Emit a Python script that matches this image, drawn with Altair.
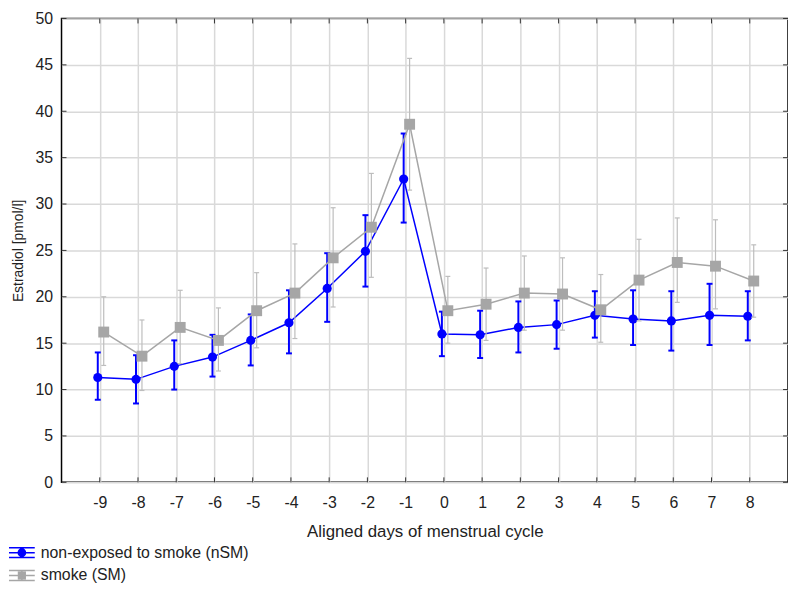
import altair as alt
import pandas as pd

days = list(range(-9, 9))
x_ticks = list(range(-9, 9))
y_ticks = list(range(0, 55, 5))
series_names = ["non-exposed to smoke (nSM)", "smoke (SM)"]

nsm_mean = [11.3, 11.1, 12.5, 13.5, 15.3, 17.2, 20.9, 24.9, 32.7, 16.0, 15.9, 16.7, 17.0, 18.0, 17.6, 17.4, 18.0, 17.9]
nsm_hi = [14.0, 13.7, 15.3, 15.9, 18.1, 20.7, 24.7, 28.8, 37.6, 18.4, 18.5, 19.5, 19.6, 20.6, 20.7, 20.6, 21.4, 20.6]
nsm_lo = [8.9, 8.5, 10.0, 11.4, 12.6, 13.9, 17.3, 21.1, 28.0, 13.6, 13.4, 14.0, 14.4, 15.6, 14.8, 14.2, 14.8, 15.3]

sm_mean = [16.2, 13.6, 16.7, 15.3, 18.5, 20.4, 24.2, 27.5, 38.6, 18.5, 19.2, 20.4, 20.3, 18.6, 21.8, 23.7, 23.3, 21.7]
sm_hi = [20.0, 17.5, 20.7, 18.8, 22.6, 25.7, 29.6, 33.3, 45.7, 22.2, 23.1, 24.4, 24.2, 22.4, 26.2, 28.5, 28.3, 25.6]
sm_lo = [12.6, 9.9, 12.8, 12.0, 14.5, 15.5, 18.9, 22.1, 31.5, 15.0, 15.3, 16.4, 16.4, 15.1, 17.4, 19.4, 18.7, 17.8]

rows = []
for i, d in enumerate(days):
    rows.append(dict(day=d, series=series_names[0], mean=nsm_mean[i], lo=nsm_lo[i], hi=nsm_hi[i]))
for i, d in enumerate(days):
    rows.append(dict(day=d, series=series_names[1], mean=sm_mean[i], lo=sm_lo[i], hi=sm_hi[i]))
df = pd.DataFrame(rows)
nsm = df[df.series == series_names[0]]
sm = df[df.series == series_names[1]]
xt = pd.DataFrame({"xv": x_ticks})
yt = pd.DataFrame({"yv": y_ticks})

W, H = 733, 468
FONT = "Liberation Sans"
BLUE = "#0000ff"
GRAY = "#a6a6a6"
GRAY_ERR = "#bdbdbd"
X_TITLE = "Aligned days of menstrual cycle"
Y_TITLE = "Estradiol [pmol/l]"

xs = alt.Scale(domain=[-10, 9], nice=False, zero=False)
ys = alt.Scale(domain=[0, 50], nice=False)

x_axis = alt.Axis(values=x_ticks, grid=True, tickSize=0, domain=False, labelPadding=12,
                  labelFontSize=16, titleFontSize=17, titlePadding=14,
                  labelExpr="datum.value + ''", title=X_TITLE)
y_axis = alt.Axis(values=y_ticks, grid=True, tickSize=0, domain=False, labelPadding=9,
                  labelFontSize=16, titleFontSize=14, titlePadding=10,
                  labelExpr="datum.value + ''", title=Y_TITLE)


def X(field):
    return alt.X(field, scale=xs, axis=x_axis, title=X_TITLE)


def Y(field):
    return alt.Y(field, scale=ys, axis=y_axis, title=Y_TITLE)


# inner tick marks
tick_color = "#333333"
xticks_bottom = alt.Chart(xt).mark_rule(color=tick_color, strokeWidth=1).encode(
    x=X("xv:Q"), y=alt.value(H), y2=alt.value(H - 5))
xticks_top = alt.Chart(xt).mark_rule(color=tick_color, strokeWidth=1).encode(
    x=X("xv:Q"), y=alt.value(0), y2=alt.value(5))
yticks_left = alt.Chart(yt).mark_rule(color=tick_color, strokeWidth=1).encode(
    y=Y("yv:Q"), x=alt.value(0), x2=alt.value(5))
yticks_right = alt.Chart(yt).mark_rule(color=tick_color, strokeWidth=1).encode(
    y=Y("yv:Q"), x=alt.value(W - 5), x2=alt.value(W))

# nSM layers
b_off = -2
nsm_line = alt.Chart(nsm).mark_line(color=BLUE, strokeWidth=1.5, xOffset=b_off).encode(
    x=X("day:Q"), y=Y("mean:Q"))
nsm_bar = alt.Chart(nsm).mark_rule(color=BLUE, strokeWidth=2, xOffset=b_off).encode(
    x=X("day:Q"), y=Y("lo:Q"), y2="hi:Q")
nsm_cap_lo = alt.Chart(nsm).mark_tick(color=BLUE, orient="horizontal", size=6, thickness=2, xOffset=b_off, opacity=1).encode(
    x=X("day:Q"), y=Y("lo:Q"))
nsm_cap_hi = alt.Chart(nsm).mark_tick(color=BLUE, orient="horizontal", size=6, thickness=2, xOffset=b_off, opacity=1).encode(
    x=X("day:Q"), y=Y("hi:Q"))
nsm_pts = alt.Chart(nsm).mark_circle(color=BLUE, size=85, opacity=1, xOffset=b_off).encode(
    x=X("day:Q"), y=Y("mean:Q"))

# SM layers
g_off = 4
sm_line = alt.Chart(sm).mark_line(color=GRAY, strokeWidth=1.5, xOffset=g_off).encode(
    x=X("day:Q"), y=Y("mean:Q"))
sm_bar = alt.Chart(sm).mark_rule(color=GRAY_ERR, strokeWidth=1.2, xOffset=g_off).encode(
    x=X("day:Q"), y=Y("lo:Q"), y2="hi:Q")
sm_cap_lo = alt.Chart(sm).mark_tick(color=GRAY_ERR, orient="horizontal", size=5, thickness=1.2, xOffset=g_off, opacity=1).encode(
    x=X("day:Q"), y=Y("lo:Q"))
sm_cap_hi = alt.Chart(sm).mark_tick(color=GRAY_ERR, orient="horizontal", size=5, thickness=1.2, xOffset=g_off, opacity=1).encode(
    x=X("day:Q"), y=Y("hi:Q"))
sm_pts = alt.Chart(sm).mark_square(color=GRAY, size=121, opacity=1, xOffset=g_off).encode(
    x=X("day:Q"), y=Y("mean:Q"))

# legend layer (no marks drawn, only legend)
circle_sym = "M-1,-0.38H1M-1,0H1M-1,0.38H1M0,-0.38V0.38M-0.28,0A0.28,0.28 0 1,0 0.28,0A0.28,0.28 0 1,0 -0.28,0Z"
square_sym = "M-1,-0.38H1M-1,0H1M-1,0.38H1M0,-0.38V0.38M-0.26,-0.26H0.26V0.26H-0.26Z"
leg = alt.Legend(orient="none", legendX=-54, legendY=525, title=None, labelFontSize=16,
                 labelFont=FONT, labelColor="#222222", symbolSize=676, symbolStrokeWidth=1.5,
                 rowPadding=1, padding=0, labelOffset=5, symbolOpacity=1, labelLimit=0)
legend_layer = alt.Chart(df).transform_filter("false").mark_point(filled=True, opacity=1).encode(
    x=X("day:Q"), y=Y("mean:Q"),
    shape=alt.Shape("series:N", scale=alt.Scale(domain=series_names, range=[circle_sym, square_sym]), legend=leg),
    fill=alt.Fill("series:N", scale=alt.Scale(domain=series_names, range=[BLUE, GRAY]), legend=leg),
    stroke=alt.Stroke("series:N", scale=alt.Scale(domain=series_names, range=[BLUE, GRAY]), legend=leg),
)

chart = alt.layer(
    xticks_bottom, xticks_top, yticks_left, yticks_right,
    nsm_line, nsm_bar, nsm_cap_lo, nsm_cap_hi, nsm_pts,
    sm_line, sm_bar, sm_cap_lo, sm_cap_hi, sm_pts,
    legend_layer,
).properties(
    width=W, height=H, autosize="none",
    padding={"left": 54, "top": 8, "right": 0, "bottom": 100},
).configure_view(
    stroke="#000000", strokeWidth=1.5
).configure_axis(
    gridColor="#d9d9d9", gridWidth=1.5, labelFont=FONT, titleFont=FONT,
    labelColor="#222222", titleColor="#222222", titleFontWeight="normal",
)

chart.save("out.html", embed_options={"renderer": "svg", "actions": False})
